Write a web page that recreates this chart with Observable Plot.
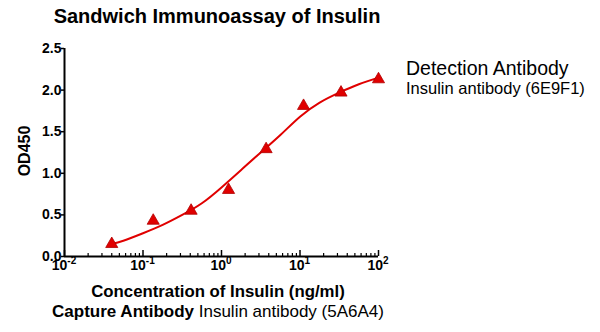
<!DOCTYPE html>
<html>
<head>
<meta charset="utf-8">
<script src="https://cdn.jsdelivr.net/npm/d3@7"></script>
<script src="https://cdn.jsdelivr.net/npm/@observablehq/plot@0.6"></script>
<style>
  html, body { margin: 0; padding: 0; background: #fff; }
  svg text { font-family: "Liberation Sans", Arial, sans-serif; }
</style>
</head>
<body>
<div id="chart"></div>
<script>
// measured points
const conc = [0.04, 0.135, 0.41, 1.23, 3.7, 11.1, 33.3, 100];
const od = [0.15, 0.43, 0.55, 0.80, 1.29, 1.81, 1.97, 2.13];
// fitted curve
const fitX = [0.0398, 0.0562, 0.1, 0.178, 0.316, 0.562, 1, 1.78, 3.16, 5.62, 10, 17.8, 31.6, 56.2, 100];
const fitY = [0.15, 0.19, 0.28, 0.38, 0.50, 0.64, 0.83, 1.04, 1.25, 1.46, 1.68, 1.85, 1.97, 2.07, 2.15];
// ticks
const yTicks = [0, 0.5, 1.0, 1.5, 2.0, 2.5];
const xDecades = [0.01, 0.1, 1, 10, 100];
const xExponents = ["-2", "-1", "0", "1", "2"];
const xMinor = [];
for (const d of [0.01, 0.1, 1, 10]) for (const m of [2,3,4,5,6,7,8,9]) xMinor.push(+(d*m).toPrecision(3));

const titleText = "Sandwich Immunoassay of Insulin";
const yLabel = "OD450";
const xLabel = "Concentration of Insulin (ng/ml)";
const captureBold = "Capture Antibody";
const captureText = "Insulin antibody (5A6A4)";
const detectTitle = "Detection Antibody";
const detectText = "Insulin antibody (6E9F1)";

const red = "#e00000";
const points = conc.map((c, i) => ({c, v: od[i]}));
const fit = fitX.map((c, i) => ({c, v: fitY[i]}));

const svg = Plot.plot({
  width: 600, height: 332,
  marginLeft: 64, marginRight: 222, marginTop: 48, marginBottom: 76,
  style: {background: "#fff", fontFamily: "Liberation Sans, Arial, sans-serif", color: "#000"},
  x: {type: "log", domain: [0.01, 100]},
  y: {domain: [0, 2.5]},
  marks: [
    Plot.axisY({ticks: yTicks, tickSize: 3, tickPadding: 0, tickFormat: d => d.toFixed(1),
      fontWeight: "bold", fontSize: 14, label: null, strokeWidth: 1.5}),
    Plot.axisX({ticks: xDecades, tickSize: -6, text: null, label: null, strokeWidth: 1.5}),
    Plot.axisX({ticks: xMinor, tickSize: -3, text: null, label: null, strokeWidth: 1.2}),
    Plot.ruleY([0], {stroke: "#000", strokeWidth: 2}),
    Plot.ruleX([0.01], {stroke: "#000", strokeWidth: 2}),
    Plot.line(fit, {x: "c", y: "v", curve: "natural", stroke: red, strokeWidth: 2}),
    Plot.dot(points, {x: "c", y: "v", symbol: "triangle", fill: red, stroke: "#b00000", strokeWidth: 0.8, r: 4.5})
  ]
});

const s = d3.select(svg);
const xs = svg.scale("x");
// x tick labels with superscript exponents
xDecades.forEach((d, i) => {
  const t = s.append("text").attr("x", xs.apply(d)).attr("y", 270)
    .attr("text-anchor", "middle").attr("font-weight", "bold").attr("font-size", 14);
  t.append("tspan").text("10");
  t.append("tspan").attr("dy", -6).attr("font-size", 10).text(xExponents[i]);
});
s.append("text").attr("x", 217).attr("y", 23).attr("text-anchor", "middle")
  .attr("font-weight", "bold").attr("font-size", 20).text(titleText);
s.append("text").attr("transform", "translate(30,151) rotate(-90)").attr("text-anchor", "middle")
  .attr("font-weight", "bold").attr("font-size", 16).text(yLabel);
s.append("text").attr("x", 218).attr("y", 297).attr("text-anchor", "middle")
  .attr("font-weight", "bold").attr("font-size", 16.8).text(xLabel);
const cap = s.append("text").attr("x", 218).attr("y", 317).attr("text-anchor", "middle").attr("font-size", 17);
cap.append("tspan").attr("font-weight", "bold").text(captureBold + " ");
cap.append("tspan").text(captureText);
s.append("text").attr("x", 406).attr("y", 75).attr("text-anchor", "start").attr("font-size", 19.5).text(detectTitle);
s.append("text").attr("x", 406).attr("y", 94).attr("text-anchor", "start").attr("font-size", 16.5).text(detectText);

document.getElementById("chart").appendChild(svg);
</script>
</body>
</html>
